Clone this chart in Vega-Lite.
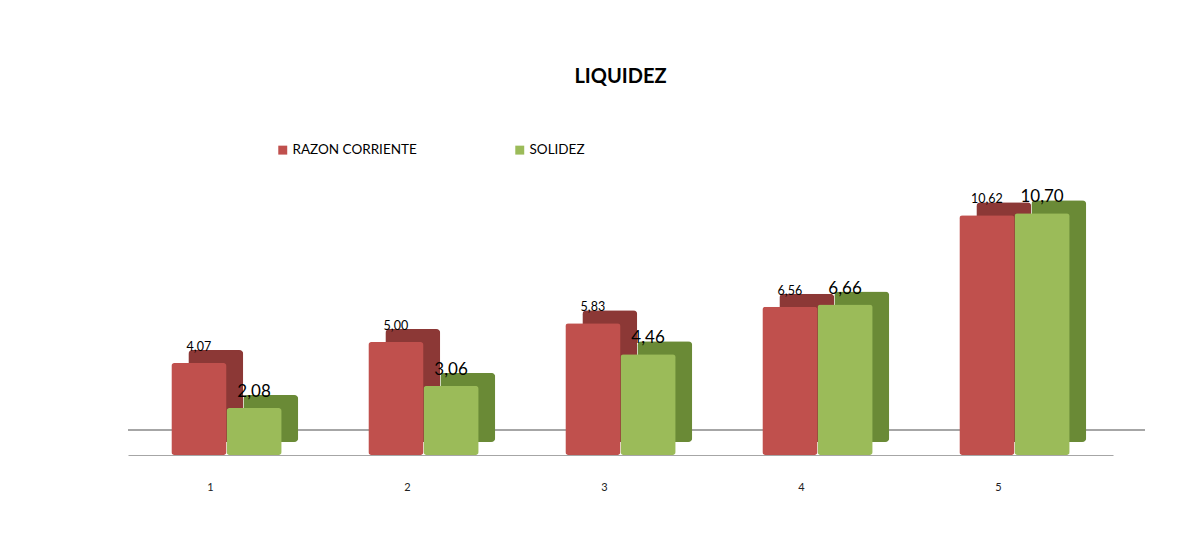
{
  "$schema": "https://vega.github.io/schema/vega-lite/v6.json",
  "autosize": {"type": "none"},
  "width": 985,
  "height": 271,
  "padding": {"left": 128, "top": 184, "right": 82, "bottom": 89},
  "background": "white",
  "title": {"text": "LIQUIDEZ", "font": "Lato", "fontSize": 20, "fontWeight": "bold", "color": "#000000", "anchor": "middle", "offset": 56},
  "config": {
    "view": {"stroke": null},
    "locale": {"number": {"decimal": ",", "thousands": ".", "grouping": [3], "currency": ["", ""]}}
  },
  "data": {"values": [
    {"periodo": "1", "serie": "RAZON CORRIENTE", "valor": 4.07},
    {"periodo": "1", "serie": "SOLIDEZ", "valor": 2.08},
    {"periodo": "2", "serie": "RAZON CORRIENTE", "valor": 5.00},
    {"periodo": "2", "serie": "SOLIDEZ", "valor": 3.06},
    {"periodo": "3", "serie": "RAZON CORRIENTE", "valor": 5.83},
    {"periodo": "3", "serie": "SOLIDEZ", "valor": 4.46},
    {"periodo": "4", "serie": "RAZON CORRIENTE", "valor": 6.56},
    {"periodo": "4", "serie": "SOLIDEZ", "valor": 6.66},
    {"periodo": "5", "serie": "RAZON CORRIENTE", "valor": 10.62},
    {"periodo": "5", "serie": "SOLIDEZ", "valor": 10.70}
  ]},
  "encoding": {
    "x": {"field": "periodo", "type": "nominal", "scale": {"paddingInner": 0.44, "paddingOuter": 0.22},
      "axis": {"title": null, "labelAngle": 0, "labelFont": "Lato", "labelFontSize": 11, "labelColor": "#222222", "labelPadding": 26, "labelOffset": -16, "ticks": false, "domainColor": "#a6a6a6", "domainWidth": 1.2}},
    "xOffset": {"field": "serie", "type": "nominal", "scale": {"domain": ["RAZON CORRIENTE", "SOLIDEZ"], "paddingInner": 0, "paddingOuter": 0}},
    "y": {"field": "valor", "type": "quantitative", "scale": {"domain": [0, 12]}, "axis": null}
  },
  "resolve": {"scale": {"color": "independent", "xOffset": "independent", "y": "independent"}, "legend": {"color": "independent"}},
  "layer": [
    {
      "mark": {"type": "rule", "color": "#a6a6a6", "strokeWidth": 1.2, "yOffset": -25, "xOffset": 32, "x2Offset": 32},
      "encoding": {"x": null, "xOffset": null, "y": {"datum": 0, "scale": {"domain": [0, 12]}}}
    },
    {
      "mark": {"type": "bar", "cornerRadius": 4},
      "encoding": {
        "xOffset": {"field": "serie", "type": "nominal", "scale": {"domain": ["RAZON CORRIENTE", "SOLIDEZ"], "range": [17, 127], "paddingInner": 0, "paddingOuter": 0}},
        "y": {"field": "valor", "type": "quantitative", "scale": {"domain": [0, 12], "range": [258, -13]}, "axis": null},
        "color": {"field": "serie", "type": "nominal", "scale": {"range": ["#8c3836", "#6a8a36"]}, "legend": null}
      }
    },
    {
      "mark": {"type": "bar", "cornerRadius": 3},
      "encoding": {
        "color": {"field": "serie", "type": "nominal", "scale": {"range": ["#c0504d", "#9bbb59"]},
          "legend": {"title": null, "orient": "none", "legendX": 148, "legendY": -41, "direction": "horizontal", "symbolType": "square", "symbolSize": 80, "symbolStrokeWidth": 0, "labelFont": "Lato", "labelFontSize": 13.5, "labelColor": "#000000", "columnPadding": 96, "labelOffset": 3}}
      }
    },
    {
      "transform": [{"filter": "datum.serie === 'RAZON CORRIENTE'"}],
      "mark": {"type": "text", "font": "Lato", "fontSize": 12.5, "color": "#000000", "baseline": "bottom", "dy": -9, "dx": 0},
      "encoding": {
        "xOffset": {"field": "serie", "type": "nominal", "scale": {"type": "point", "domain": ["RAZON CORRIENTE", "SOLIDEZ"], "padding": 0.5}},
        "text": {"field": "valor", "type": "quantitative", "format": ".2f"}
      }
    },
    {
      "transform": [{"filter": "datum.serie === 'SOLIDEZ'"}],
      "mark": {"type": "text", "font": "Lato", "fontSize": 17, "color": "#000000", "baseline": "bottom", "dy": -7, "dx": 0},
      "encoding": {
        "xOffset": {"field": "serie", "type": "nominal", "scale": {"type": "point", "domain": ["RAZON CORRIENTE", "SOLIDEZ"], "padding": 0.5}},
        "text": {"field": "valor", "type": "quantitative", "format": ".2f"}
      }
    }
  ]
}
